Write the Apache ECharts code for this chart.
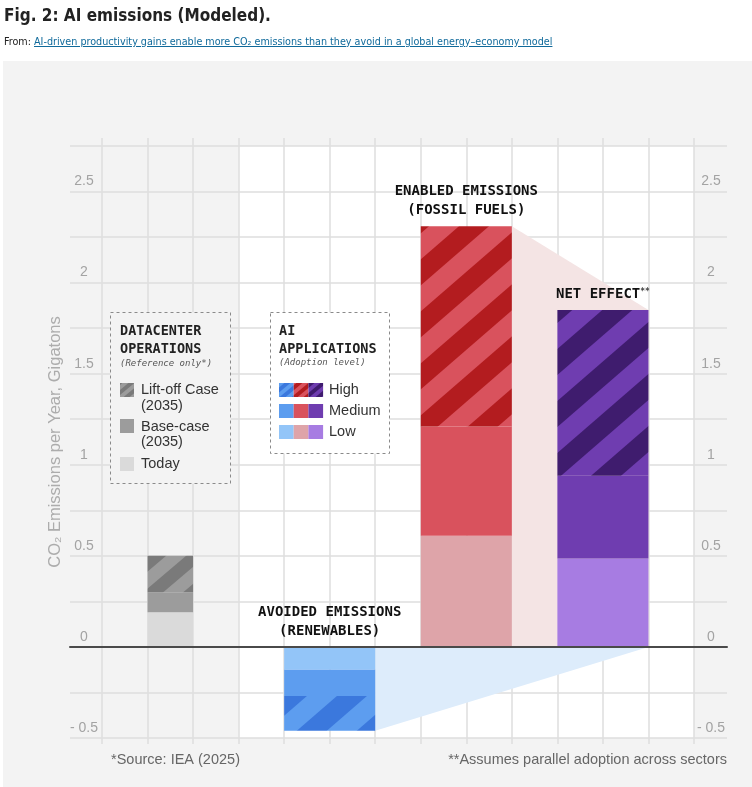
<!DOCTYPE html>
<html>
<head>
<meta charset="utf-8">
<title>Fig. 2: AI emissions (Modeled).</title>
<script src="https://cdn.jsdelivr.net/npm/echarts@6/dist/echarts.min.js"></script>
<style>
html, body { margin: 0; padding: 0; background: #fff; }
#bg { position: absolute; left: 3px; top: 61px; width: 749px; height: 726px; background: #f3f3f3; z-index: 0; }
#chart { position: absolute; left: 0; top: 0; width: 752px; height: 787px; z-index: 1; }
.title { position: absolute; left: 4px; top: 4px; z-index: 2; color: #222;
  font: bold 17px/22px 'Liberation Sans Narrow', 'DejaVu Sans Condensed', 'Liberation Sans', sans-serif; }
.from { position: absolute; left: 4px; top: 35px; z-index: 2; color: #222;
  font: 10.7px/14px 'Liberation Sans Narrow', 'DejaVu Sans Condensed', 'Liberation Sans', sans-serif; }
.from a { color: #106a9b; text-decoration: underline; }
</style>
</head>
<body>
<div class="title">Fig. 2: AI emissions (Modeled).</div>
<div class="from">From: <a>AI-driven productivity gains enable more CO₂ emissions than they avoid in a global energy–economy model</a></div>
<div id="bg"></div>
<div id="chart"></div>
<script>
// --- data (Gt CO2 per year, cumulative level of each scenario) ---
var barNames = ['Datacenter operations', 'Avoided emissions', 'Enabled emissions', 'Net effect'];
var lowLevel = [0.19, -0.125, 0.61, 0.485];     // Today / Low adoption
var mediumLevel = [0.30, -0.27, 1.21, 0.94];    // Base-case / Medium adoption
var highLevel = [0.50, -0.46, 2.31, 1.85];      // Lift-off / High adoption
var barLabels = ['', 'AVOIDED EMISSIONS\n(RENEWABLES)', 'ENABLED EMISSIONS\n(FOSSIL FUELS)', 'NET EFFECT{sup|**}'];
var yTicks = [-0.5, 0, 0.5, 1, 1.5, 2, 2.5];

// --- layout: which grid columns each bar fills ---
var columnSpan = [[1, 2], [4, 6], [7, 9], [10, 12]];
var panelSpan = [3, 13];
var yMin = -0.5, yMax = 2.75;

// low, medium, stripe base, stripe
var palette = [
    ['#dadada', '#9c9c9c', '#9c9c9c', '#7a7a7a'],
    ['#93c5f8', '#5d9def', '#5d9def', '#3b78dd'],
    ['#dea4a9', '#d9525d', '#d9525d', '#b31c1f'],
    ['#a77ce2', '#6f3db0', '#6f3db0', '#3f1c6e']
];

function stripes(base, dark, w, h) {
    var c = document.createElement('canvas');
    c.width = w; c.height = h;
    var g = c.getContext('2d');
    g.fillStyle = base;
    g.fillRect(0, 0, w, h);
    g.fillStyle = dark;
    [0, 1].forEach(function (k) {
        g.beginPath();
        g.moveTo(k * w, 0);
        g.lineTo((k + 0.5) * w, 0);
        g.lineTo(0, (k + 0.5) * h);
        g.lineTo(0, k * h);
        g.closePath();
        g.fill();
    });
    return { image: c, repeat: 'repeat' };
}

var barPattern = palette.map(function (p, i) {
    return i === 0 ? stripes(p[2], p[3], 40, 34) : stripes(p[2], p[3], 60, 52);
});
var swatchPattern = palette.map(function (p) { return stripes(p[2], p[3], 12, 10); });

var segments = [];
barNames.forEach(function (name, i) {
    var levels = [0, lowLevel[i], mediumLevel[i], highLevel[i]];
    for (var k = 0; k < 3; k++) {
        segments.push({ bar: i, level: k, y0: levels[k], y1: levels[k + 1] });
    }
});

var connectors = [
    { color: '#f4e4e4', points: [[columnSpan[2][1], 0], [columnSpan[2][1], highLevel[2]], [columnSpan[3][1], highLevel[3]], [columnSpan[3][1], 0]] },
    { color: '#ddecfb', points: [[columnSpan[1][1], 0], [columnSpan[1][1], highLevel[1]], [columnSpan[3][1], 0]] }
];

var gridColor = '#dedede';
var monoBold = 'bold 13.5px "DejaVu Sans Mono", monospace';
var monoItalic = 'italic 9px "DejaVu Sans Mono", monospace';
var sans = '14.5px "Liberation Sans", Arial, sans-serif';

function txt(x, y, text, font, fill, align) {
    return { type: 'text', x: x, y: y, z: 11, silent: true,
        style: { text: text, font: font, fill: fill, align: align || 'left', verticalAlign: 'middle' } };
}
function box(x, y, w, h, fill) {
    return { type: 'rect', z: 10, silent: true, shape: { x: x, y: y, width: w, height: h },
        style: { fill: fill, stroke: '#8a8a8a', lineWidth: 1, lineDash: [3, 3] } };
}
function swatch(x, y, w, h, fill) {
    return { type: 'rect', z: 11, silent: true, shape: { x: x, y: y, width: w, height: h }, style: { fill: fill } };
}

var graphics = [
    // datacenter legend
    box(110.5, 312.5, 120, 171, '#f3f3f3'),
    txt(120, 331, 'DATACENTER', monoBold, '#222'),
    txt(120, 349, 'OPERATIONS', monoBold, '#222'),
    txt(120, 364, '(Reference only*)', monoItalic, '#555'),
    swatch(120, 383, 14, 14, swatchPattern[0]),
    txt(141, 390, 'Lift-off Case', sans, '#333'),
    txt(141, 406, '(2035)', sans, '#333'),
    swatch(120, 419, 14, 14, palette[0][1]),
    txt(141, 427, 'Base-case', sans, '#333'),
    txt(141, 442, '(2035)', sans, '#333'),
    swatch(120, 457, 14, 14, palette[0][0]),
    txt(141, 464, 'Today', sans, '#333'),
    // AI applications legend
    box(270.5, 312.5, 119, 141, '#ffffff'),
    txt(279, 331, 'AI', monoBold, '#222'),
    txt(279, 349, 'APPLICATIONS', monoBold, '#222'),
    txt(279, 363, '(Adoption level)', monoItalic, '#555'),
    txt(329, 390, 'High', sans, '#333'),
    txt(329, 411, 'Medium', sans, '#333'),
    txt(329, 432, 'Low', sans, '#333'),
    // footnotes
    txt(111, 760, '*Source: IEA (2025)', sans, '#666'),
    txt(727, 760, '**Assumes parallel adoption across sectors', sans, '#666', 'right')
];
[1, 2, 3].forEach(function (bar, j) {
    graphics.push(swatch(279 + j * 14.7, 383, 14.7, 14, swatchPattern[bar]));
    graphics.push(swatch(279 + j * 14.7, 404, 14.7, 14, palette[bar][1]));
    graphics.push(swatch(279 + j * 14.7, 425, 14.7, 14, palette[bar][0]));
});

function yLabel(v) {
    for (var i = 0; i < yTicks.length; i++) {
        if (Math.abs(yTicks[i] - v) < 1e-6) return v < 0 ? '- ' + Math.abs(v) : String(v);
    }
    return '';
}

var labelStyle = { inside: true, align: 'center', verticalAlign: 'bottom', padding: [0, 0, 3, 0],
    color: '#a3a3a3', fontSize: 14, fontFamily: 'Liberation Sans', formatter: yLabel };

var option = {
    backgroundColor: 'transparent',
    animation: false,
    graphic: graphics,
    grid: [
        { left: 70, right: 25, top: 146, bottom: 49 },
        { left: 102, right: 58, top: 146, bottom: 49 }
    ],
    xAxis: [
        { gridIndex: 0, type: 'value', min: 0, max: 1, z: 5,
          axisLine: { show: true, onZero: true, lineStyle: { color: '#4a4a4a', width: 2 } },
          axisTick: { show: false }, axisLabel: { show: false }, splitLine: { show: false } },
        { gridIndex: 1, type: 'value', min: 0, max: 13, interval: 1, position: 'bottom',
          axisLine: { show: false, onZero: false },
          axisTick: { show: true, length: 6, lineStyle: { color: gridColor, width: 1.5 } },
          axisLabel: { show: false },
          splitLine: { show: true, lineStyle: { color: gridColor, width: 1.5 } } },
        { gridIndex: 1, type: 'value', min: 0, max: 13, interval: 1, position: 'top',
          axisLine: { show: false, onZero: false },
          axisTick: { show: true, length: 8, lineStyle: { color: gridColor, width: 1.5 } },
          axisLabel: { show: false }, splitLine: { show: false } }
    ],
    yAxis: [
        { gridIndex: 0, type: 'value', min: yMin, max: yMax, interval: 0.25, position: 'left',
          name: 'CO₂ Emissions per Year, Gigatons', nameLocation: 'middle', nameRotate: 90, nameGap: 6,
          nameMoveOverlap: false,
          nameTextStyle: { color: '#acacac', fontSize: 16.5, fontFamily: 'Liberation Sans' },
          axisLine: { show: false }, axisTick: { show: false },
          axisLabel: Object.assign({}, labelStyle, { margin: 14 }),
          splitLine: { show: true, lineStyle: { color: gridColor, width: 1.5 } } },
        { gridIndex: 0, type: 'value', min: yMin, max: yMax, interval: 0.25, position: 'right',
          axisLine: { show: false }, axisTick: { show: false },
          axisLabel: Object.assign({}, labelStyle, { margin: 16 }),
          splitLine: { show: false } },
        { gridIndex: 1, type: 'value', min: yMin, max: yMax, interval: 0.25, show: false }
    ],
    series: [
        {
            name: 'connectors', type: 'custom', xAxisIndex: 1, yAxisIndex: 2, z: 1, silent: true,
            data: connectors.map(function (c, i) { return [i]; }),
            renderItem: function (params, api) {
                var c = connectors[params.dataIndex];
                return { type: 'polygon', shape: { points: c.points.map(function (p) { return api.coord(p); }) },
                    style: { fill: c.color } };
            }
        },
        {
            name: 'emissions', type: 'custom', xAxisIndex: 1, yAxisIndex: 2, z: 2, silent: true,
            data: segments.map(function (s) { return [columnSpan[s.bar][0], columnSpan[s.bar][1], s.y0, s.y1]; }),
            encode: { x: [0, 1], y: [2, 3] },
            renderItem: function (params, api) {
                var s = segments[params.dataIndex];
                var span = columnSpan[s.bar];
                var p0 = api.coord([span[0], s.y0]);
                var p1 = api.coord([span[1], s.y1]);
                var fill = s.level === 2 ? barPattern[s.bar] : palette[s.bar][s.level];
                var children = [{ type: 'rect',
                    shape: { x: p0[0], y: Math.min(p0[1], p1[1]), width: p1[0] - p0[0], height: Math.abs(p1[1] - p0[1]) },
                    style: { fill: fill } }];
                if (s.level === 2 && barLabels[s.bar]) {
                    var top = api.coord([(span[0] + span[1]) / 2, Math.max(0, highLevel[s.bar])]);
                    children.push({ type: 'text', x: top[0], y: top[1] - 6,
                        style: { text: barLabels[s.bar], font: 'bold 14px "DejaVu Sans Mono", monospace', fill: '#111',
                            align: 'center', verticalAlign: 'bottom', lineHeight: 19,
                            rich: { sup: { fontSize: 8, fontWeight: 'bold', fontFamily: 'DejaVu Sans Mono', fill: '#444', padding: [0, 0, 5, 0] } } } });
                }
                return { type: 'group', children: children };
            }
        }
    ]
};

var chart = echarts.init(document.getElementById('chart'));
chart.setOption(option);

// white panel behind the grid lines, placed through the bar axes
var a = chart.convertToPixel({ xAxisIndex: 1, yAxisIndex: 2 }, [panelSpan[0], yMax]);
var b = chart.convertToPixel({ xAxisIndex: 1, yAxisIndex: 2 }, [panelSpan[1], yMin]);
graphics.unshift({ type: 'rect', z: -5, silent: true,
    shape: { x: a[0], y: a[1], width: b[0] - a[0], height: b[1] - a[1] }, style: { fill: '#ffffff' } });
chart.setOption({ graphic: graphics }, { replaceMerge: ['graphic'] });
</script>
</body>
</html>
